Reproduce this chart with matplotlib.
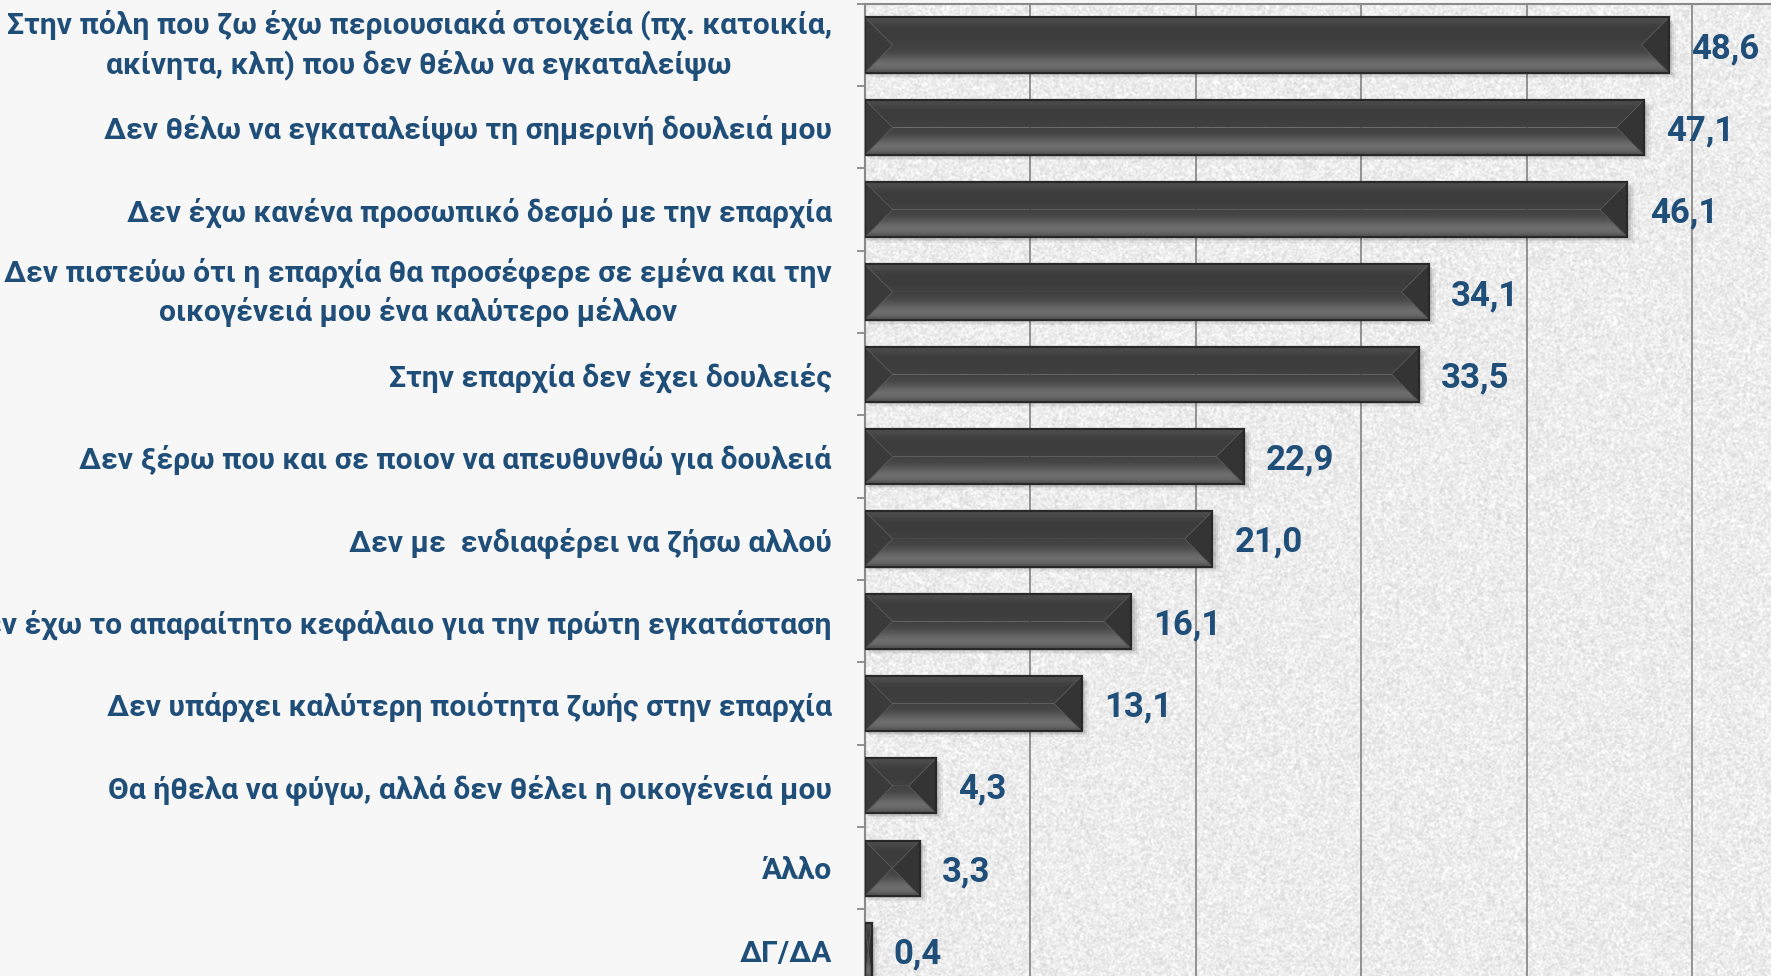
import numpy as np
import matplotlib.pyplot as plt
from matplotlib.patches import Polygon, Rectangle

# Reasons for not moving to the countryside (%)
categories = [
    "Στην πόλη που ζω έχω περιουσιακά στοιχεία (πχ. κατοικία,\nακίνητα, κλπ) που δεν θέλω να εγκαταλείψω",
    "Δεν θέλω να εγκαταλείψω τη σημερινή δουλειά μου",
    "Δεν έχω κανένα προσωπικό δεσμό με την επαρχία",
    "Δεν πιστεύω ότι η επαρχία θα προσέφερε σε εμένα και την\nοικογένειά μου ένα καλύτερο μέλλον",
    "Στην επαρχία δεν έχει δουλειές",
    "Δεν ξέρω που και σε ποιον να απευθυνθώ για δουλειά",
    "Δεν με  ενδιαφέρει να ζήσω αλλού",
    "Δεν έχω το απαραίτητο κεφάλαιο για την πρώτη εγκατάσταση",
    "Δεν υπάρχει καλύτερη ποιότητα ζωής στην επαρχία",
    "Θα ήθελα να φύγω, αλλά δεν θέλει η οικογένειά μου",
    "Άλλο",
    "ΔΓ/ΔΑ",
]
values = [48.6, 47.1, 46.1, 34.1, 33.5, 22.9, 21.0, 16.1, 13.1, 4.3, 3.3, 0.4]
grid_ticks = [0, 10, 20, 30, 40, 50, 60]

text_color = '#1F4E79'
plt.rcParams['font.family'] = ['Roboto', 'DejaVu Sans']

W, H, DPI = 1771, 976, 100
fig = plt.figure(figsize=(W / DPI, H / DPI), dpi=DPI, facecolor='#F7F7F7')

# axes placement (plot area runs past the right and bottom edges, as in the cropped original)
x_max = 60
ax_left = 865 / W
ax_top = 1 - 3.85 / H
ax_height = (991.7 - 3.85) / H
ax_width = x_max * 16.54 / W
ax = fig.add_axes([ax_left, ax_top - ax_height, ax_width, ax_height])

# grainy background texture for the plot area (decoration only)
rng = np.random.default_rng(3)
noise = rng.random((990, 990))
k = np.array([0.25, 0.5, 0.25])
noise = np.apply_along_axis(lambda r: np.convolve(r, k, mode='same'), 1, noise)
noise = np.apply_along_axis(lambda c: np.convolve(c, k, mode='same'), 0, noise)
noise = 0.925 + (noise - noise.mean()) * 0.25
ax.imshow(noise, extent=[0, 1, 0, 1], transform=ax.transAxes, cmap='gray',
          vmin=0, vmax=1, aspect='auto', interpolation='nearest', zorder=0)

ys = np.arange(len(categories))
bar_h = 0.67
h = bar_h / 2
# bevel inset: 45 degrees in pixels
px_per_x = 16.54
px_per_y = 82.3
inset_x = h * px_per_y / px_per_x

grad_top = np.array([0.30, 0.28, 0.25, 0.24, 0.24, 0.24, 0.245, 0.25]).reshape(-1, 1)
grad_bot = np.array([0.26, 0.27, 0.30, 0.35, 0.40, 0.43, 0.41, 0.34]).reshape(-1, 1)

for y, v in zip(ys, values):
    d = min(inset_x, v / 2)
    # soft drop shadow
    for s, a in [(0.55, 0.04), (0.4, 0.06), (0.25, 0.09)]:
        ax.add_patch(Rectangle((s * 0.5, y - h + s * 0.12), v + s * 0.3, bar_h,
                               facecolor='black', alpha=a, lw=0, zorder=2))
    # top bevel
    top = Polygon([(0, y - h), (v, y - h), (v - d, y), (d, y)],
                  closed=True, facecolor='none', lw=0, zorder=3)
    ax.add_patch(top)
    im = ax.imshow(grad_top, extent=[0, v, y, y - h], cmap='gray', vmin=0, vmax=1,
                   aspect='auto', interpolation='bilinear', zorder=3)
    im.set_clip_path(top)
    # bottom bevel with gradient
    bot = Polygon([(0, y + h), (v, y + h), (v - d, y), (d, y)],
                  closed=True, facecolor='none', lw=0, zorder=3)
    ax.add_patch(bot)
    im = ax.imshow(grad_bot, extent=[0, v, y + h, y], cmap='gray', vmin=0, vmax=1,
                   aspect='auto', interpolation='bilinear', zorder=3)
    im.set_clip_path(bot)
    # end bevels
    ax.add_patch(Polygon([(0, y - h), (d, y), (0, y + h)], closed=True,
                         facecolor='#3a3a3a', edgecolor='#555555', lw=0.6, zorder=3.5))
    ax.add_patch(Polygon([(v, y - h), (v - d, y), (v, y + h)], closed=True,
                         facecolor='#343434', edgecolor='#555555', lw=0.6, zorder=3.5))
    # outline
    ax.add_patch(Rectangle((0, y - h), v, bar_h, facecolor='none',
                           edgecolor='#282828', lw=1.6, zorder=4))
    ax.annotate(f"{v:.1f}".replace('.', ','), (v, y), xytext=(16, -2.5),
                textcoords='offset points', ha='left', va='center',
                fontsize=25, fontweight='bold', color=text_color, zorder=5)

ax.set_xlim(0, x_max)
ax.set_ylim(len(categories) - 0.5, -0.5)

ax.set_xticks(grid_ticks)
ax.xaxis.grid(True, color='#8a8a8a', lw=1.3, zorder=1)
ax.set_axisbelow(True)
ax.tick_params(axis='x', length=0, labelbottom=False)

ax.set_yticks(ys)
ax.set_yticklabels(categories, fontsize=21.7, fontweight='bold', color=text_color,
                   multialignment='center', linespacing=1.4)
# two-line labels centred on their bar
for lbl in ax.get_yticklabels():
    if '\n' in lbl.get_text():
        lbl.set_va('center')
ax.set_yticks(np.arange(len(categories) + 1) - 0.5, minor=True)
ax.tick_params(axis='y', which='major', length=0, pad=24)
ax.tick_params(axis='y', which='minor', length=6, width=1.3, color='#8a8a8a', direction='out')

for side in ['left', 'top']:
    ax.spines[side].set_color('#8a8a8a')
    ax.spines[side].set_linewidth(1.5)
for side in ['right', 'bottom']:
    ax.spines[side].set_visible(False)

fig.savefig('out.png', dpi=DPI, facecolor=fig.get_facecolor())
